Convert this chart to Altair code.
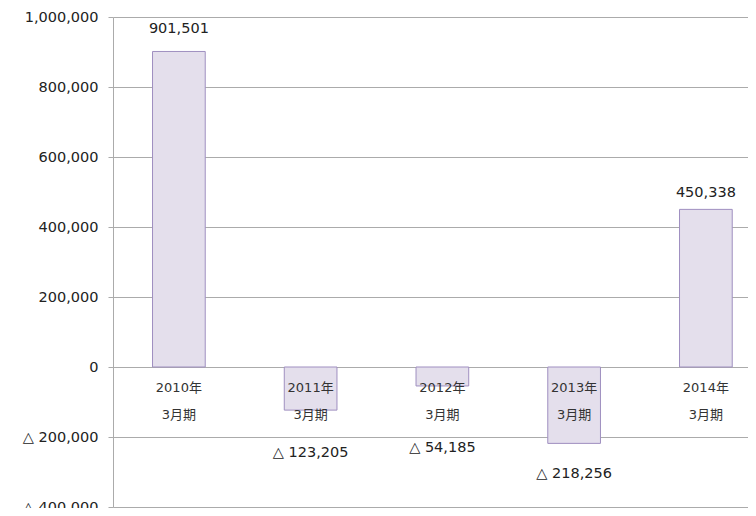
import altair as alt
import pandas as pd

# --- data ---
categories = ["2010年\n3月期", "2011年\n3月期", "2012年\n3月期", "2013年\n3月期", "2014年\n3月期"]
values = [901501, -123205, -54185, -218256, 450338]
value_labels = ["901,501", "△ 123,205", "△ 54,185", "△ 218,256", "450,338"]
# where each value label sits (in data units)
label_anchor = [966000, -246000, -232000, -305000, 497000]

tick_values = [-400000, -200000, 0, 200000, 400000, 600000, 800000, 1000000]
tick_labels = ["△ 400.000", "△ 200,000", "0", "200,000", "400,000", "600,000", "800,000", "1,000,000"]

df = pd.DataFrame({
    "cat": categories,
    "value": values,
    "label": value_labels,
    "anchor": label_anchor,
    "zero": [0] * len(categories),
})

expr = "''"
for v, t in zip(tick_values, tick_labels):
    expr = f"datum.value == {v} ? '{t}' : ({expr})"

FONT = "DejaVu Sans, Noto Sans CJK JP"

xscale = alt.Scale(range=[0, 658.75], paddingInner=0.6, paddingOuter=0.3)
yscale = alt.Scale(domain=[-400000, 1000000], nice=False, zero=False)

x = alt.X("cat:N", sort=categories, scale=xscale, axis=None)

bars = alt.Chart(df).mark_bar(
    fill="#e4dfec", stroke="#9f8fc0", strokeWidth=1
).encode(
    x=x,
    y=alt.Y("value:Q", scale=yscale,
            axis=alt.Axis(values=tick_values, labelExpr=expr, title=None,
                          grid=True, gridColor="#ababab", gridWidth=1,
                          domain=True, domainColor="#ababab",
                          ticks=True, tickSize=5, tickColor="#ababab",
                          labelFontSize=14.5, labelColor="#222222", labelFont=FONT,
                          labelPadding=10, labelFlush=False, labelOverlap=False)),
    y2="zero:Q",
)

vlabels = alt.Chart(df).mark_text(
    fontSize=14.5, font=FONT, color="#222222", baseline="middle"
).encode(
    x=x,
    y=alt.Y("anchor:Q", scale=yscale),
    text="label:N",
)

cats = alt.Chart(df).mark_text(
    fontSize=13, font=FONT, color="#333333", baseline="middle",
    lineBreak="\n", lineHeight=27, dy=21
).encode(
    x=x,
    y=alt.Y("zero:Q", scale=yscale),
    text="cat:N",
)

chart = alt.layer(bars, cats, vlabels).properties(
    width=635,
    height=490,
    autosize=alt.AutoSizeParams(type="none"),
    padding={"left": 105, "top": 9, "right": 0, "bottom": 1},
    background="white",
).configure_view(stroke=None)

chart.save("out.html", embed_options={"renderer": "svg", "actions": False})
